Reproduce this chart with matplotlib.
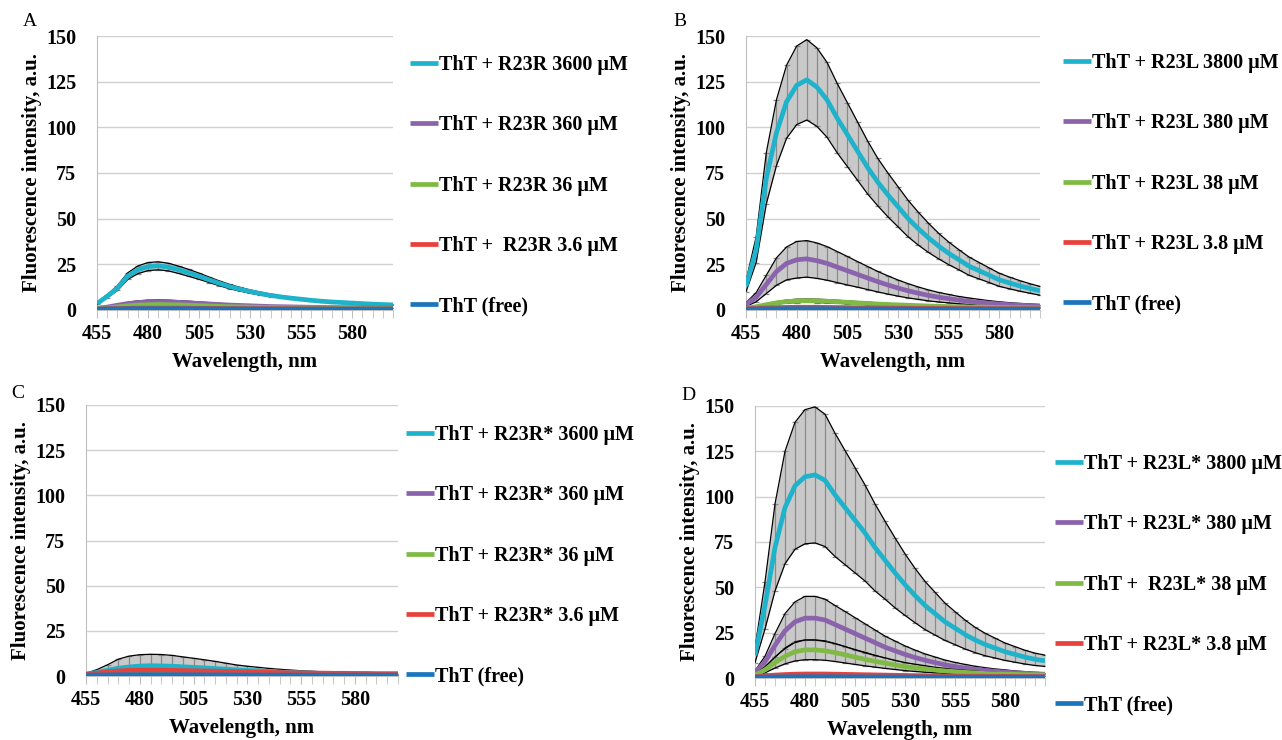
import matplotlib
matplotlib.use("Agg")
import matplotlib.pyplot as plt
import numpy as np

plt.rcParams["font.family"] = ["Liberation Serif", "DejaVu Serif"]

# wavelength grid, nm
wl = list(range(455, 601, 5))

colors = ["#1FB2CB", "#8B63AD", "#80BA45", "#E8413B", "#1A75BC"]

free = [0.5, 0.55, 0.6, 0.65, 0.7, 0.7, 0.7, 0.7, 0.7, 0.65, 0.65, 0.6, 0.6, 0.6, 0.55,
        0.55, 0.55, 0.5, 0.5, 0.5, 0.5, 0.5, 0.5, 0.5, 0.5, 0.5, 0.5, 0.5, 0.5, 0.5]

# panel A: R23R
a_cyan = [3.5, 7.5, 12, 18.5, 22, 23.8, 24.2, 23.5, 22, 20.3, 18.5, 16.5, 14.6, 12.8, 11.4,
          10.1, 9, 8, 7.2, 6.5, 5.9, 5.3, 4.8, 4.4, 4.1, 3.8, 3.5, 3.2, 3.0, 2.8]
a_cyan_err = [0.4, 0.8, 1.3, 1.8, 2.1, 2.2, 2.2, 2.1, 2, 1.9, 1.7, 1.5, 1.3, 1.2, 1,
              0.9, 0.8, 0.7, 0.6, 0.55, 0.5, 0.45, 0.4, 0.35, 0.3, 0.3, 0.3, 0.25, 0.25, 0.25]
a_purple = [0.9, 1.6, 2.6, 3.5, 4.1, 4.4, 4.5, 4.4, 4.2, 3.9, 3.6, 3.3, 3.0, 2.7, 2.5,
            2.3, 2.1, 1.9, 1.8, 1.7, 1.6, 1.5, 1.4, 1.35, 1.3, 1.25, 1.2, 1.15, 1.1, 1.1]
a_purple_err = [0.2, 0.3, 0.5, 0.7, 0.9, 1, 1, 1, 0.9, 0.9, 0.8, 0.7, 0.6, 0.6, 0.5,
                0.5, 0.4, 0.4, 0.4, 0.3, 0.3, 0.3, 0.3, 0.3, 0.3, 0.2, 0.2, 0.2, 0.2, 0.2]
a_green = [0.7, 1.1, 1.7, 2.3, 2.7, 2.9, 3.0, 2.9, 2.8, 2.6, 2.4, 2.2, 2.0, 1.8, 1.7,
           1.6, 1.5, 1.4, 1.3, 1.25, 1.2, 1.15, 1.1, 1.05, 1.0, 1.0, 0.95, 0.95, 0.9, 0.9]
a_red = [0.6, 0.7, 0.8, 0.9, 1.0, 1.0, 1.0, 1.0, 1.0, 0.95, 0.9, 0.9, 0.85, 0.8, 0.8,
         0.75, 0.75, 0.7, 0.7, 0.7, 0.65, 0.65, 0.65, 0.6, 0.6, 0.6, 0.6, 0.6, 0.6, 0.6]
a_labels = ["ThT + R23R 3600 μM", "ThT + R23R 360 μM", "ThT + R23R 36 μM",
            "ThT +  R23R 3.6 μM", "ThT (free)"]

# panel B: R23L
b_cyan = [13, 33, 72, 97, 114, 123, 126, 122, 115, 105, 96, 87, 78, 70, 63,
          56.5, 50, 44.5, 39.5, 35, 31, 27.5, 24, 21.5, 19, 16.5, 14.8, 13.2, 11.8, 10.5]
b_cyan_err = [3, 7, 14, 18, 20, 21.5, 22, 21.5, 20.5, 19, 17.5, 16, 14.5, 13, 12,
              11, 10, 9, 8, 7, 6.2, 5.5, 5, 4.5, 4, 3.6, 3.2, 2.9, 2.6, 2.4]
b_purple = [3, 7, 14, 21, 25.5, 27.5, 28, 27, 25.5, 23.5, 21.5, 19.5, 17.5, 15.5, 13.7,
            12, 10.5, 9.2, 8, 7, 6.2, 5.4, 4.8, 4.2, 3.7, 3.3, 2.9, 2.6, 2.4, 2.2]
b_purple_err = [1, 2.5, 5, 7.5, 9, 10, 10, 9.7, 9.2, 8.5, 7.8, 7, 6.3, 5.6, 5,
                4.4, 3.9, 3.4, 3, 2.6, 2.3, 2, 1.8, 1.6, 1.4, 1.2, 1.1, 1, 0.9, 0.8]
b_green = [1.0, 1.8, 2.9, 3.9, 4.6, 5.0, 5.1, 5.0, 4.8, 4.5, 4.2, 3.9, 3.6, 3.3, 3.0,
           2.8, 2.6, 2.4, 2.2, 2.0, 1.9, 1.8, 1.7, 1.6, 1.5, 1.4, 1.35, 1.3, 1.25, 1.2]
b_green_err = [0.2, 0.3, 0.5, 0.7, 0.8, 0.9, 0.9, 0.9, 0.9, 0.8, 0.8, 0.7, 0.7, 0.6, 0.6,
               0.5, 0.5, 0.4, 0.4, 0.4, 0.4, 0.3, 0.3, 0.3, 0.3, 0.3, 0.3, 0.3, 0.2, 0.2]
b_red = [0.7, 0.9, 1.1, 1.3, 1.4, 1.5, 1.5, 1.5, 1.4, 1.35, 1.3, 1.2, 1.15, 1.1, 1.05,
         1.0, 0.95, 0.9, 0.9, 0.85, 0.85, 0.8, 0.8, 0.8, 0.75, 0.75, 0.75, 0.7, 0.7, 0.7]
b_labels = ["ThT + R23L 3800 μM", "ThT + R23L 380 μM", "ThT + R23L 38 μM",
            "ThT + R23L 3.8 μM", "ThT (free)"]

# panel C: R23R*
c_cyan = [1.0, 2.0, 3.2, 4.3, 5.0, 5.5, 5.7, 5.6, 5.4, 5.1, 4.8, 4.5, 4.1, 3.8, 3.4,
          3.1, 2.8, 2.5, 2.2, 2.0, 1.8, 1.6, 1.4, 1.3, 1.2, 1.1, 1.0, 0.9, 0.9, 0.8]
c_cyan_err = [0.5, 1.5, 3, 5, 6, 6.3, 6.3, 6.3, 6, 5.5, 5, 4.5, 4, 3.3, 2.7,
              2.3, 2.0, 1.7, 1.5, 1.3, 1.1, 1.0, 0.9, 0.8, 0.7, 0.6, 0.6, 0.5, 0.5, 0.5]
c_purple = [0.8, 1.2, 1.7, 2.1, 2.4, 2.6, 2.6, 2.6, 2.5, 2.4, 2.3, 2.2, 2.0, 1.9, 1.8,
            1.7, 1.6, 1.5, 1.4, 1.3, 1.25, 1.2, 1.15, 1.1, 1.05, 1.0, 1.0, 1.0, 0.95, 0.95]
c_green = [0.7, 1.0, 1.4, 1.7, 1.9, 2.0, 2.0, 2.0, 1.9, 1.85, 1.8, 1.7, 1.6, 1.5, 1.45,
           1.4, 1.3, 1.25, 1.2, 1.15, 1.1, 1.05, 1.0, 1.0, 0.95, 0.95, 0.9, 0.9, 0.9, 0.9]
c_red = [1.0, 1.6, 2.3, 2.8, 3.1, 3.2, 3.2, 3.2, 3.1, 3.0, 2.9, 2.8, 2.7, 2.5, 2.4,
         2.3, 2.1, 2.0, 1.9, 1.8, 1.7, 1.6, 1.6, 1.5, 1.5, 1.4, 1.4, 1.3, 1.3, 1.3]
c_labels = ["ThT + R23R* 3600 μM", "ThT + R23R* 360 μM", "ThT + R23R* 36 μM",
            "ThT + R23R* 3.6 μM", "ThT (free)"]

# panel D: R23L*
d_cyan = [12.5, 40, 72, 94, 106, 111, 112, 109, 101, 94, 87, 80, 72, 65, 58,
          51.5, 45.5, 40, 35.5, 31, 27.5, 24, 21, 18.5, 16.5, 14.5, 13, 11.5, 10.3, 9.5]
d_cyan_err = [4, 13, 24, 31, 35, 37, 37.5, 36.5, 34, 31.5, 29, 26.5, 24, 21.5, 19.3,
              17, 15, 13.3, 11.8, 10.3, 9.1, 8, 7, 6.2, 5.5, 4.8, 4.3, 3.8, 3.4, 3.1]
d_purple = [3, 9, 18, 26, 31, 33, 33, 32, 29.5, 27, 24.5, 22, 19.5, 17, 15,
            13, 11.3, 9.8, 8.5, 7.3, 6.3, 5.5, 4.8, 4.2, 3.7, 3.3, 2.9, 2.6, 2.3, 2.1]
d_purple_err = [1, 3, 6.5, 9.5, 11, 12, 12, 11.5, 10.5, 9.7, 8.8, 7.9, 7, 6.1, 5.4,
                4.7, 4.1, 3.5, 3.1, 2.6, 2.3, 2, 1.7, 1.5, 1.3, 1.2, 1.0, 0.9, 0.8, 0.8]
d_green = [1.5, 4.5, 8.5, 12, 14.5, 15.5, 15.5, 15, 14, 12.8, 11.5, 10.3, 9.2, 8.2, 7.2,
           6.3, 5.6, 5, 4.4, 3.9, 3.5, 3.1, 2.8, 2.5, 2.3, 2.1, 2, 1.9, 1.8, 1.7]
d_green_err = [0.5, 1.6, 3, 4.2, 5.1, 5.4, 5.4, 5.2, 4.9, 4.5, 4, 3.6, 3.2, 2.9, 2.5,
               2.2, 2, 1.8, 1.5, 1.4, 1.2, 1.1, 1, 0.9, 0.8, 0.7, 0.7, 0.7, 0.6, 0.6]
d_red = [0.8, 1.2, 1.6, 1.9, 2.1, 2.2, 2.2, 2.2, 2.1, 2.0, 1.9, 1.8, 1.7, 1.6, 1.5,
         1.4, 1.3, 1.25, 1.2, 1.1, 1.05, 1.0, 1.0, 0.95, 0.9, 0.9, 0.85, 0.85, 0.8, 0.8]
d_labels = ["ThT + R23L* 3800 μM", "ThT + R23L* 380 μM", "ThT +  R23L* 38 μM",
            "ThT + R23L* 3.8 μM", "ThT (free)"]

W, H = 1282, 740
FS = 14.5
fig = plt.figure(figsize=(W / 100, H / 100), dpi=100)


def panel(box, letter, letter_xy, series, errs, labels, leg_xy):
    l, t, r, b = box
    ax = fig.add_axes([l / W, 1 - b / H, (r - l) / W, (b - t) / H])
    for i, (y, e) in enumerate(zip(series, errs)):
        z = 2 + i * 3
        if e is not None:
            lo = np.array(y) - np.array(e)
            hi = np.array(y) + np.array(e)
            # error band (the original has a bar at every nm)
            ax.fill_between(wl, lo, hi, color="#c9c9c9", lw=0, zorder=z)
            eb = ax.errorbar(wl, y, yerr=e, fmt="none", ecolor="#8a8a8a",
                             elinewidth=0.9, capsize=2, capthick=0.9, zorder=z + 0.5)
            for cap in eb[1]:
                cap.set_color("black")
            ax.plot(wl, lo, color="black", lw=0.9, zorder=z + 0.6)
            ax.plot(wl, hi, color="black", lw=0.9, zorder=z + 0.6)
        ax.plot(wl, y, color=colors[i], lw=3.4, label=labels[i], zorder=z + 1,
                solid_capstyle="butt")
    ax.set_xlim(455, 600)
    ax.set_ylim(0, 150)
    ax.set_yticks(range(0, 151, 25))
    ax.set_xticks(range(455, 600, 25))
    ax.set_xticks(range(455, 601, 5), minor=True)
    ax.grid(axis="y", color="#d0d0d0", lw=1)
    ax.set_axisbelow(True)
    for s in ["top", "right"]:
        ax.spines[s].set_visible(False)
    ax.spines["left"].set_color("#bfbfbf")
    ax.spines["bottom"].set_color("#bfbfbf")
    ax.tick_params(axis="y", length=0, pad=15, labelsize=FS)
    ax.tick_params(axis="x", which="both", length=6, color="#bfbfbf", labelsize=FS, pad=4)
    for lab in ax.get_xticklabels() + ax.get_yticklabels():
        lab.set_fontweight("bold")
    ax.set_xlabel("Wavelength, nm", fontsize=15, fontweight="bold", labelpad=6)
    ax.set_ylabel("Fluorescence intensity, a.u.", fontsize=15, fontweight="bold", labelpad=3)
    fig.text(letter_xy[0] / W, 1 - letter_xy[1] / H, letter, fontsize=14,
             ha="center", va="center")
    ax.legend(loc="upper left", bbox_to_anchor=(leg_xy[0] / W, 1 - leg_xy[1] / H),
              bbox_transform=fig.transFigure, frameon=False, handlelength=1.4,
              handletextpad=0.05, labelspacing=2.0, borderpad=0, borderaxespad=0,
              prop={"size": FS, "weight": "bold"})
    return ax


panel((97, 36, 393, 310), "A", (30, 22),
      [a_cyan, a_purple, a_green, a_red, free],
      [a_cyan_err, a_purple_err, None, None, None], a_labels, (410, 55))
panel((746, 36, 1040, 310), "B", (680, 22),
      [b_cyan, b_purple, b_green, b_red, free],
      [b_cyan_err, b_purple_err, b_green_err, None, None], b_labels, (1063, 53))
panel((86, 405, 398, 676), "C", (18, 394),
      [c_cyan, c_purple, c_green, c_red, free],
      [c_cyan_err, None, None, None, None], c_labels, (406, 425))
panel((755, 406, 1045, 678), "D", (688, 396),
      [d_cyan, d_purple, d_green, d_red, free],
      [d_cyan_err, d_purple_err, d_green_err, None, None], d_labels, (1055, 454))

fig.savefig("out.png", dpi=100)
